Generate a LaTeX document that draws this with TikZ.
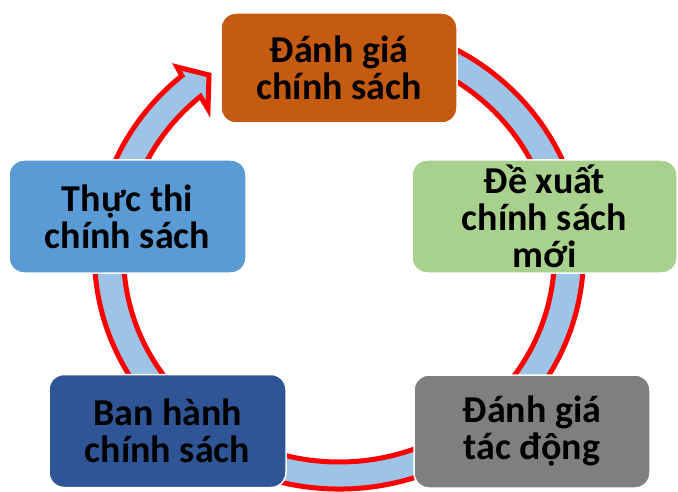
\documentclass[tikz,border=0pt]{standalone}
\usepackage{fontspec}
\setmainfont{Carlito}
\usepackage{tikz}
\definecolor{ringfill}{HTML}{9DC3E6}
\definecolor{ringline}{HTML}{FF0000}
\definecolor{evalcol}{HTML}{C55A11}
\definecolor{propcol}{HTML}{A9D18E}
\definecolor{impactcol}{HTML}{7F7F7F}
\definecolor{issuecol}{HTML}{2F5597}
\definecolor{implcol}{HTML}{5B9BD5}

\begin{document}
\begin{tikzpicture}[x=1pt,y=1pt]
\useasboundingbox (0,0) rectangle (678,-492);
\path[fill=ringfill,draw=ringline,line width=5pt,line join=miter,miter limit=20]
    ([shift={(339,-255)}]80:244.5 and 234)
    arc[start angle=80,end angle=-230,x radius=244.5,y radius=234]
    -- (177,-67) -- (209,-75) -- (208,-109)
    -- ([shift={(339,-255)}]130:215.5 and 207)
    arc[start angle=130,end angle=440,x radius=215.5,y radius=207] -- cycle;
\begin{scope}[every node/.style={rectangle,rounded corners=15pt,draw=white,line width=1.5pt,
              minimum height=113pt,inner sep=0pt,align=center,
              font=\fontsize{38}{37}\selectfont\bfseries}]
    \node[fill=evalcol,minimum width=236pt,minimum height=110pt] (P1) at (339,-68) {Đánh giá\\chính sách};
    \node[fill=propcol,minimum width=265pt] (P2) at (544.5,-216.5)
        {\fontsize{38}{40}\selectfont Đề xuất\\chính sách\\mới};
    \node[fill=impactcol,minimum width=236pt] (P3) at (532,-431.5) {Đánh giá\\tác động};
    \node[fill=issuecol,minimum width=237pt] (P4) at (167.5,-431) {Ban hành\\chính sách};
    \node[fill=implcol,minimum width=237pt] (P5) at (127.5,-216.5) {Thực thi\\chính sách};
\end{scope}
\end{tikzpicture}
\end{document}
